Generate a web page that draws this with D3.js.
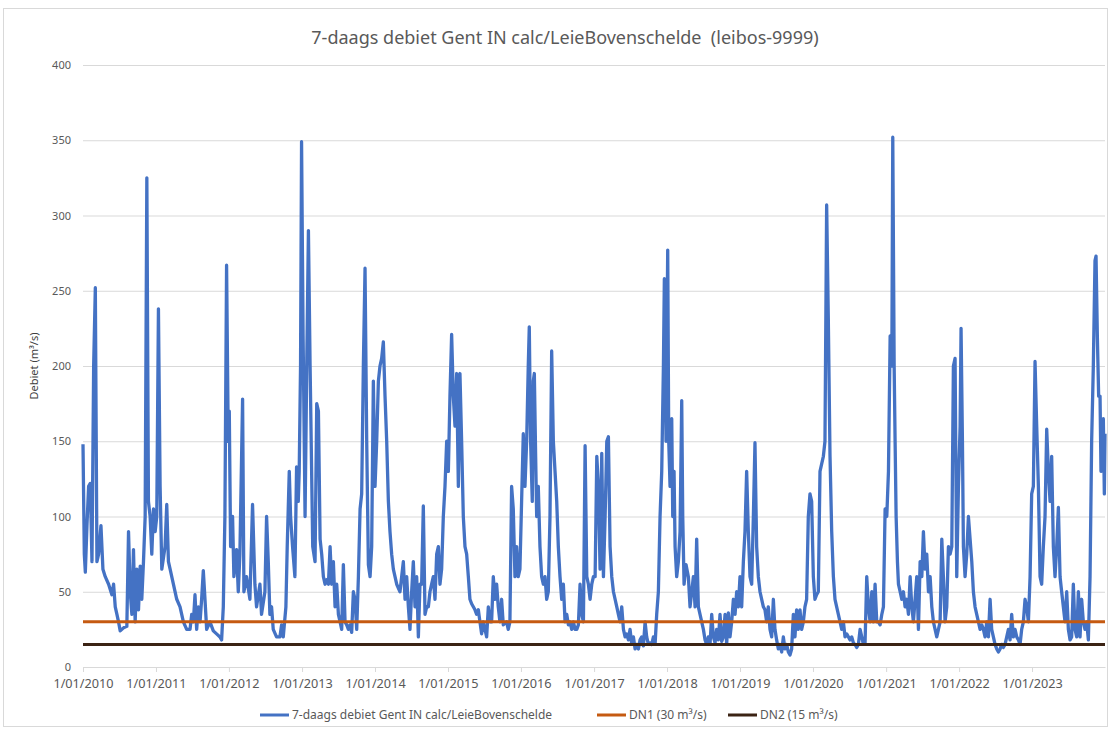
<!DOCTYPE html>
<html>
<head>
<meta charset="utf-8">
<script src="https://cdn.jsdelivr.net/npm/d3@7"></script>
<style>
  body { margin: 0; background: #fff; font-family: "Noto Sans", "Open Sans", sans-serif; }
</style>
</head>
<body>
<div id="chart"></div>
<script>
// --- chart data ---
const chartTitle = "7-daags debiet Gent IN calc/LeieBovenschelde  (leibos-9999)";
const yTitle = "Debiet (m³/s)";
const yTicks = [0, 50, 100, 150, 200, 250, 300, 350, 400];
const tickYears = [2010, 2011, 2012, 2013, 2014, 2015, 2016, 2017, 2018, 2019, 2020, 2021, 2022, 2023];
const seriesNames = ["7-daags debiet Gent IN calc/LeieBovenschelde", "DN1 (30 m³/s)", "DN2 (15 m³/s)"];
const thresholds = [30, 15];

// sample time in decimal years
const sampleTime = [
  // 2010
  2010.000,2010.018,2010.032,2010.055,2010.077,2010.100,2010.123,2010.146,2010.169,2010.191,2010.214,2010.246,2010.273,2010.305,2010.351,2010.396,2010.419,2010.442,2010.465,2010.487,2010.510,2010.556,2010.601,2010.624,2010.647,2010.670,2010.692,2010.715,2010.738,2010.761,2010.784,2010.806,2010.829,2010.852,2010.875,2010.897,2010.920,2010.943,2010.966,2010.989,
  // 2011
  2011.011,2011.034,2011.057,2011.080,2011.125,2011.148,2011.171,2011.194,2011.239,2011.285,2011.330,2011.376,2011.421,2011.467,2011.490,2011.513,2011.535,2011.558,2011.581,2011.604,2011.626,2011.649,2011.672,2011.695,2011.740,2011.786,2011.831,2011.877,2011.900,2011.923,2011.945,2011.968,2011.991,
  // 2012
  2012.005,2012.023,2012.050,2012.068,2012.105,2012.128,2012.150,2012.187,2012.205,2012.241,2012.287,2012.323,2012.355,2012.378,2012.424,2012.446,2012.492,2012.515,2012.538,2012.560,2012.583,2012.606,2012.651,2012.697,2012.720,2012.743,2012.779,2012.797,2012.825,2012.843,2012.870,2012.902,2012.925,2012.948,2012.961,2012.979,2012.993,
  // 2013
  2013.014,2013.041,2013.064,2013.087,2013.110,2013.146,2013.178,2013.201,2013.224,2013.247,2013.269,2013.292,2013.315,2013.338,2013.361,2013.384,2013.406,2013.429,2013.452,2013.475,2013.498,2013.521,2013.543,2013.566,2013.589,2013.612,2013.635,2013.658,2013.680,2013.703,2013.726,2013.749,2013.772,2013.795,2013.817,2013.840,2013.863,2013.886,2013.909,2013.932,2013.954,2013.977,
  // 2014
  2014.000,2014.023,2014.046,2014.068,2014.091,2014.114,2014.137,2014.160,2014.183,2014.205,2014.228,2014.251,2014.274,2014.297,2014.342,2014.365,2014.388,2014.411,2014.434,2014.457,2014.479,2014.502,2014.525,2014.548,2014.571,2014.594,2014.616,2014.639,2014.662,2014.685,2014.708,2014.731,2014.753,2014.776,2014.799,2014.822,2014.845,2014.868,2014.890,2014.913,2014.936,2014.959,2014.982,
  // 2015
  2015.005,2015.027,2015.050,2015.073,2015.096,2015.119,2015.142,2015.164,2015.187,2015.210,2015.233,2015.256,2015.279,2015.301,2015.324,2015.347,2015.370,2015.393,2015.416,2015.438,2015.461,2015.484,2015.507,2015.530,2015.553,2015.575,2015.598,2015.621,2015.644,2015.667,2015.689,2015.712,2015.735,2015.758,2015.804,2015.826,2015.849,2015.872,2015.895,2015.918,2015.941,2015.963,2015.986,
  // 2016
  2016.009,2016.032,2016.055,2016.078,2016.100,2016.114,2016.132,2016.155,2016.169,2016.183,2016.201,2016.215,2016.237,2016.260,2016.283,2016.306,2016.329,2016.352,2016.374,2016.397,2016.420,2016.443,2016.466,2016.489,2016.511,2016.534,2016.557,2016.580,2016.603,2016.626,2016.648,2016.671,2016.694,2016.717,2016.740,2016.763,2016.785,2016.808,2016.831,2016.854,2016.877,2016.900,2016.922,2016.945,2016.968,2016.991,
  // 2017
  2017.014,2017.037,2017.059,2017.082,2017.105,2017.128,2017.151,2017.174,2017.196,2017.219,2017.242,2017.265,2017.311,2017.333,2017.356,2017.379,2017.402,2017.425,2017.447,2017.470,2017.493,2017.516,2017.539,2017.562,2017.584,2017.607,2017.630,2017.653,2017.676,2017.699,2017.721,2017.744,2017.767,2017.790,2017.813,2017.836,2017.858,2017.881,2017.904,2017.927,2017.950,2017.963,2017.986,2017.995,
  // 2018
  2018.009,2018.023,2018.041,2018.064,2018.078,2018.096,2018.110,2018.132,2018.155,2018.178,2018.201,2018.215,2018.233,2018.260,2018.292,2018.315,2018.338,2018.361,2018.384,2018.406,2018.429,2018.452,2018.475,2018.498,2018.521,2018.543,2018.566,2018.589,2018.612,2018.635,2018.658,2018.680,2018.703,2018.726,2018.749,2018.772,2018.795,2018.817,2018.840,2018.863,2018.886,2018.909,2018.932,2018.954,2018.977,
  // 2019
  2019.000,2019.023,2019.046,2019.068,2019.091,2019.114,2019.137,2019.160,2019.183,2019.205,2019.228,2019.251,2019.274,2019.297,2019.320,2019.342,2019.365,2019.388,2019.411,2019.434,2019.457,2019.479,2019.502,2019.525,2019.548,2019.571,2019.594,2019.616,2019.639,2019.662,2019.685,2019.708,2019.731,2019.753,2019.776,2019.799,2019.822,2019.845,2019.868,2019.890,2019.913,2019.936,2019.959,2019.982,
  // 2020
  2020.005,2020.027,2020.050,2020.073,2020.096,2020.119,2020.142,2020.164,2020.187,2020.210,2020.233,2020.256,2020.279,2020.301,2020.324,2020.347,2020.370,2020.393,2020.416,2020.438,2020.461,2020.484,2020.507,2020.530,2020.553,2020.575,2020.598,2020.621,2020.644,2020.667,2020.689,2020.712,2020.735,2020.758,2020.781,2020.804,2020.826,2020.849,2020.872,2020.895,2020.918,2020.941,2020.963,2020.986,
  // 2021
  2021.009,2021.032,2021.055,2021.078,2021.091,2021.110,2021.123,2021.137,2021.155,2021.169,2021.192,2021.215,2021.237,2021.260,2021.283,2021.306,2021.329,2021.352,2021.374,2021.397,2021.420,2021.443,2021.466,2021.489,2021.511,2021.534,2021.557,2021.580,2021.603,2021.626,2021.648,2021.671,2021.694,2021.717,2021.740,2021.763,2021.785,2021.808,2021.831,2021.854,2021.877,2021.900,2021.922,2021.945,2021.968,2021.991,
  // 2022
  2022.014,2022.027,2022.046,2022.059,2022.082,2022.105,2022.128,2022.151,2022.174,2022.196,2022.219,2022.242,2022.265,2022.288,2022.311,2022.333,2022.356,2022.379,2022.402,2022.425,2022.447,2022.470,2022.493,2022.516,2022.539,2022.562,2022.584,2022.607,2022.630,2022.653,2022.676,2022.699,2022.721,2022.744,2022.767,2022.790,2022.813,2022.836,2022.858,2022.881,2022.904,2022.927,2022.950,2022.973,2022.995,
  // 2023
  2023.018,2023.041,2023.064,2023.087,2023.110,2023.132,2023.155,2023.178,2023.201,2023.224,2023.247,2023.269,2023.292,2023.315,2023.338,2023.361,2023.384,2023.406,2023.429,2023.452,2023.475,2023.498,2023.521,2023.543,2023.566,2023.589,2023.612,2023.635,2023.658,2023.680,2023.703,2023.726,2023.749,2023.772,2023.795,2023.817,2023.840,2023.863,2023.877,2023.895,2023.913,2023.932,2023.945,2023.959,2023.977,2023.991,2024.000
];

// 7-day flow (m³/s) at each sample time
const flow = [
  // 2010
  148,75,63,95,120,122,70,200,252,70,75,94,65,60,55,48,55,40,35,30,24,26,27,90,50,35,78,30,65,38,67,45,70,100,325,110,100,75,105,90,
  // 2011
  100,238,120,65,80,108,70,65,55,45,40,30,25,25,35,30,48,25,40,30,45,64,45,25,30,24,22,20,18,40,100,267,150,
  // 2012
  170,80,100,60,78,50,75,178,50,60,45,108,55,40,55,35,50,100,70,35,40,25,20,20,28,20,40,80,130,100,80,60,133,110,130,200,349,
  // 2013
  220,100,200,290,200,80,70,175,170,85,75,60,55,58,55,80,55,70,40,55,35,30,25,68,30,28,25,28,23,50,45,25,60,105,115,200,265,150,68,60,80,190,
  // 2014
  120,150,190,200,205,216,180,150,110,90,75,65,60,55,50,60,70,45,60,40,25,50,70,40,60,20,55,55,107,35,40,40,50,55,60,45,75,80,55,65,100,120,150,
  // 2015
  130,180,221,180,160,195,120,195,150,100,80,75,60,45,42,40,38,35,38,30,22,30,25,20,40,30,30,60,45,55,40,30,45,28,30,25,30,120,105,60,80,60,65,
  // 2016
  110,155,120,150,200,226,150,110,190,195,140,100,120,80,60,55,60,45,50,100,210,150,130,110,80,60,45,55,30,35,28,30,25,30,25,25,28,55,35,30,147,60,55,45,55,60,
  // 2017
  60,140,120,65,142,60,100,150,153,80,60,50,40,35,30,40,25,20,22,18,25,15,20,12,15,12,18,20,14,30,20,15,16,15,20,15,35,50,100,130,200,258,150,200,
  // 2018
  277,150,120,165,100,130,80,60,70,90,177,100,55,68,60,40,50,60,40,85,40,35,30,25,18,15,20,15,35,20,16,25,18,35,17,20,35,15,36,20,30,45,35,50,40,
  // 2019
  60,40,70,90,130,90,60,55,100,149,80,60,50,45,40,38,30,40,25,20,45,25,18,12,15,10,20,12,15,10,8,12,35,20,38,25,38,25,30,40,45,100,115,110,
  // 2020
  60,45,48,50,130,135,140,150,307,230,140,90,60,45,40,35,30,25,30,20,22,20,18,20,16,15,13,15,25,20,15,16,60,40,30,50,30,55,30,30,28,35,40,105,
  // 2021
  100,130,220,200,352,200,150,100,70,55,50,45,50,40,45,35,60,40,30,45,60,25,70,60,90,65,75,50,60,40,30,25,20,25,30,85,60,30,40,80,75,80,200,205,60,120,
  // 2022
  160,225,150,80,60,75,100,85,70,50,40,35,30,25,28,25,20,30,20,45,25,20,15,12,10,12,15,13,15,20,25,18,35,20,25,20,18,15,25,30,45,40,30,60,115,
  // 2023
  120,203,160,120,60,55,80,100,158,130,110,140,80,60,80,106,60,50,40,30,50,25,18,20,55,25,20,50,20,45,30,25,30,18,60,150,200,270,273,220,180,180,130,150,165,115,155
];

// --- layout ---
const W = 1112, H = 731;
const plot = { left: 83, right: 1105, top: 65, bottom: 667 };
const colors = ["#4472C4", "#C55A11", "#3B2314"];
const textColor = "#595959";
const gridColor = "#d9d9d9";
const legendX = [260, 597, 728];

if (sampleTime.length !== flow.length) console.warn("length mismatch", sampleTime.length, flow.length);

function yearToDate(t) {
  const y = Math.floor(t);
  const start = new Date(y, 0, 1), end = new Date(y + 1, 0, 1);
  return new Date(+start + (t - y) * (end - start));
}

const series = sampleTime.map((t, i) => ({ date: yearToDate(t), value: flow[i] }));

const svg = d3.select("#chart").append("svg").attr("width", W).attr("height", H);

// chart border
svg.append("rect").attr("x", 3.5).attr("y", 8.5).attr("width", 1104).attr("height", 718)
  .attr("fill", "#fff").attr("stroke", gridColor);

const x = d3.scaleTime()
  .domain([new Date(2010, 0, 1), new Date(2024, 0, 1)])
  .range([plot.left, plot.right]);
const y = d3.scaleLinear().domain([0, 400]).range([plot.bottom, plot.top]);

// title
svg.append("text").attr("x", 565).attr("y", 44).attr("text-anchor", "middle")
  .style("font-size", "18px").style("fill", textColor).style("white-space", "pre")
  .text(chartTitle);

// gridlines + y labels
const yAxis = svg.append("g").attr("transform", `translate(${plot.left},0)`)
  .call(d3.axisLeft(y).tickValues(yTicks).tickSize(-(plot.right - plot.left)).tickPadding(12));
yAxis.select(".domain").remove();
yAxis.selectAll(".tick line").attr("stroke", gridColor).attr("stroke-width", 1)
  .filter(d => d === 0).remove();
yAxis.selectAll(".tick text").style("font-size", "11px").style("fill", textColor)
  .style("font-family", "'Noto Sans', sans-serif");

// y title
svg.append("text").attr("transform", `translate(38,${(plot.top + plot.bottom) / 2}) rotate(-90)`)
  .attr("text-anchor", "middle").style("font-size", "11px").style("fill", "#404040")
  .text(yTitle);

// x axis
const xAxis = svg.append("g").attr("transform", `translate(0,${plot.bottom})`)
  .call(d3.axisBottom(x)
    .tickValues(tickYears.map(yr => new Date(yr, 0, 1)))
    .tickFormat(d3.timeFormat("%-d/%m/%Y"))
    .tickSize(5).tickSizeOuter(0).tickPadding(7));
xAxis.select(".domain").attr("stroke", gridColor);
xAxis.selectAll(".tick line").attr("stroke", gridColor);
xAxis.selectAll(".tick text").style("font-size", "12.7px").style("fill", textColor)
  .style("font-family", "'Noto Sans', sans-serif");

// flow line
svg.append("path").datum(series)
  .attr("fill", "none").attr("stroke", colors[0]).attr("stroke-width", 3.3)
  .attr("stroke-linejoin", "round")
  .attr("d", d3.line().x(d => x(d.date)).y(d => y(d.value)));

// threshold lines
svg.selectAll(".thr").data(thresholds).join("line").attr("class", "thr")
  .attr("x1", plot.left).attr("x2", plot.right)
  .attr("y1", d => y(d)).attr("y2", d => y(d))
  .attr("stroke", (d, i) => colors[i + 1]).attr("stroke-width", 3);

// legend
const legend = svg.append("g").attr("transform", "translate(0,715)");
seriesNames.forEach((name, i) => {
  const g = legend.append("g").attr("transform", `translate(${legendX[i]},0)`);
  g.append("line").attr("x1", 0).attr("x2", 29).attr("y1", 0).attr("y2", 0)
    .attr("stroke", colors[i]).attr("stroke-width", 3);
  g.append("text").attr("x", 32).attr("y", 4)
    .style("font-size", "12px").style("fill", textColor).text(name);
});
</script>
</body>
</html>
